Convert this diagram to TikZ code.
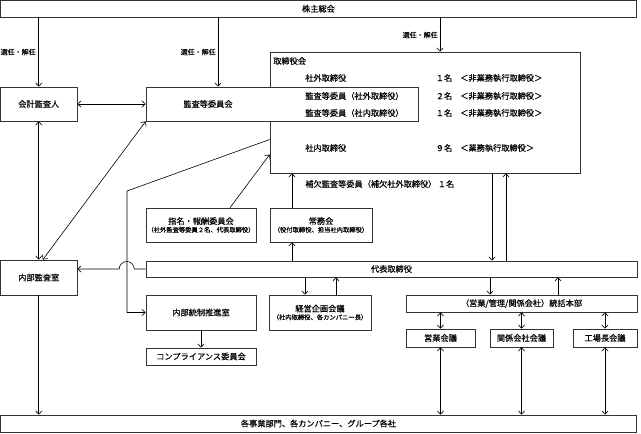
\documentclass[tikz,border=0pt]{standalone}
\usepackage{fontspec}
\setmainfont{Noto Sans CJK JP}[UprightFeatures={FakeBold=0.35}]
\usetikzlibrary{arrows.meta}

\newcommand{\bigtxt}{\fontsize{8.2}{9}\selectfont}
\newcommand{\smalltxt}{\fontsize{6.3}{7}\selectfont}
\newcommand{\seltxt}{\fontsize{7}{8}\selectfont}

\begin{document}
\begin{tikzpicture}[x=1pt,y=-1pt,line width=0.6pt,
  >={Straight Barb[length=3.5pt,width=6.5pt]},
  orgbox/.style={draw=black!80,fill=white,inner sep=0pt,align=center,font=\bigtxt},
  txt/.style={inner sep=0pt,font=\bigtxt},
  sel/.style={inner sep=1pt,anchor=east,font=\seltxt}]
\useasboundingbox (0,0) rectangle (641,434);

\node[orgbox,minimum width=636pt,minimum height=16.5pt] (soukai) at (318.5,8.75) {株主総会};
\node[orgbox,minimum width=76.5pt,minimum height=34pt] (kaikei) at (38.75,104) {会計監査人};
\node[orgbox,minimum width=310pt,minimum height=121pt] (torikai) at (425,112.5) {};
\node[orgbox,minimum width=272pt,minimum height=34pt] (kansa) at (282,104) {};
\node[txt] (kansat) at (208,104) {監査等委員会};
\node[txt,anchor=west] (torit) at (273,61) {取締役会};

\node[txt,anchor=west] (r1) at (305,78) {社外取締役};
\node[txt] (n1) at (444,78) {１名};
\node[txt,anchor=west] (k1) at (460,78) {＜非業務執行取締役＞};
\node[txt,anchor=west] (r2) at (305,96) {監査等委員（社外取締役）};
\node[txt] (n2) at (444,96) {２名};
\node[txt,anchor=west] (k2) at (460,96) {＜非業務執行取締役＞};
\node[txt,anchor=west] (r3) at (305,113) {監査等委員（社内取締役）};
\node[txt] (n3) at (444,113) {１名};
\node[txt,anchor=west] (k3) at (460,113) {＜非業務執行取締役＞};
\node[txt,anchor=west] (r4) at (305,148) {社内取締役};
\node[txt] (n4) at (444,148) {９名};
\node[txt,anchor=west] (k4) at (460,148) {＜業務執行取締役＞};
\node[txt,anchor=west] (hoketsu) at (305,184) {補欠監査等委員（補欠社外取締役）\,１名};

\node[orgbox,minimum width=76.5pt,minimum height=35pt] (naibu) at (38.75,277.5) {内部監査室};
\node[orgbox,minimum width=110pt,minimum height=34pt] (shimei) at (201,225) {指名・報酬委員会\\[-1pt]{\smalltxt （社外監査等委員２名、代表取締役）}};
\node[orgbox,minimum width=102pt,minimum height=34pt] (joumu) at (321,225) {常務会\\[-1pt]{\smalltxt （役付取締役、担当社内取締役）}};
\node[orgbox,minimum width=491pt,minimum height=16pt] (daihyo) at (391.5,269) {代表取締役};
\node[orgbox,minimum width=110pt,minimum height=35pt] (tousei) at (201,312.5) {内部統制推進室};
\node[orgbox,minimum width=102pt,minimum height=35pt] (keiei) at (320,312.5) {経営企画会議\\[-1pt]{\smalltxt （社内取締役、各カンパニー長）}};
\node[orgbox,minimum width=110pt,minimum height=17pt] (comp) at (201,356.5) {コンプライアンス委員会};
\node[orgbox,minimum width=231pt,minimum height=17pt] (toukatsu) at (521.5,303.5) {（営業/管理/関係会社）統括本部};
\node[orgbox,minimum width=69pt,minimum height=18pt] (eigyo) at (440.5,338) {営業会議};
\node[orgbox,minimum width=63pt,minimum height=18pt] (kankei) at (521.5,338) {関係会社会議};
\node[orgbox,minimum width=64pt,minimum height=18pt] (kojo) at (605,338) {工場長会議};
\node[orgbox,minimum width=636pt,minimum height=17pt] (jigyo) at (318.5,423.5) {各事業部門、各カンパニー、グループ各社};

\coordinate (c2) at (218,0);
\coordinate (c3) at (440,0);
\coordinate (cj) at (292,0);
\coordinate (ck1) at (305,0);
\coordinate (ck2) at (336,0);
\coordinate (cd1) at (492,0);
\coordinate (cd2) at (506,0);
\coordinate (ct1) at (490,0);
\coordinate (ct2) at (558,0);
\coordinate (bend) at (127,191);

\draw[->] (soukai.south -| kaikei.north) -- (kaikei.north);
\draw[->] (soukai.south -| c2) -- (kansa.north -| c2);
\draw[->] (soukai.south -| c3) -- (torikai.north -| c3);
\node[sel] (sel1) at (37,52) {選任・解任};
\node[sel] (sel2) at (217,52) {選任・解任};
\node[sel] (sel3) at (439,35) {選任・解任};

\draw[<->] (kaikei.east) -- (kansa.west);
\draw[<->] (kaikei.south) -- (naibu.north);
\draw[<->] (kansa.south west) -- ([xshift=4pt]naibu.north);
\draw[->] ([yshift=-27pt]torikai.west) -- (bend) -- (bend |- tousei.west) -- (tousei.west);
\draw[->] ([xshift=29pt]shimei.north) -- ([yshift=-42pt]torikai.west);
\draw[->] (joumu.north -| cj) -- (torikai.south -| cj);
\draw[->] (daihyo.north -| cj) -- (joumu.south -| cj);
\draw[->] (daihyo.west) -- ++(-11.5,0) arc (0:180:7.5pt) -- (naibu.east |- daihyo.west);
\draw[->] (tousei.south) -- (comp.north);
\draw[->] (daihyo.south -| ck1) -- (keiei.north -| ck1);
\draw[->] (keiei.north -| ck2) -- (daihyo.south -| ck2);
\draw[->] (torikai.south -| cd1) -- (daihyo.north -| cd1);
\draw[->] (daihyo.north -| cd2) -- (torikai.south -| cd2);
\draw[->] (daihyo.south -| ct1) -- (toukatsu.north -| ct1);
\draw[->] (toukatsu.north -| ct2) -- (daihyo.south -| ct2);
\draw[<->] (toukatsu.south -| eigyo.north) -- (eigyo.north);
\draw[<->] (toukatsu.south -| kankei.north) -- (kankei.north);
\draw[<->] (toukatsu.south -| kojo.north) -- (kojo.north);
\draw[<->] (eigyo.south) -- (jigyo.north -| eigyo.south);
\draw[<->] (kankei.south) -- (jigyo.north -| kankei.south);
\draw[<->] (kojo.south) -- (jigyo.north -| kojo.south);
\draw[->] (naibu.south) -- (jigyo.north -| naibu.south);

\end{tikzpicture}
\end{document}
